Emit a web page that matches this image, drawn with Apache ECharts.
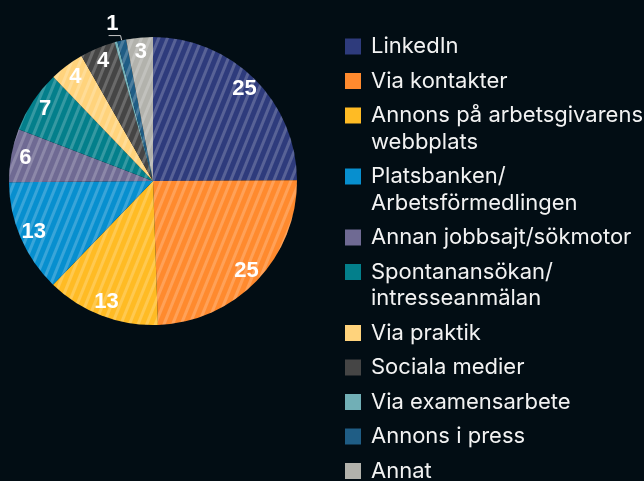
<!DOCTYPE html>
<html>
<head>
<meta charset="utf-8">
<script src="https://cdn.jsdelivr.net/npm/echarts@6/dist/echarts.min.js"></script>
<style>
  html, body { margin: 0; padding: 0; background: #020d14; }
  #chart { width: 644px; height: 481px; }
</style>
</head>
<body>
<div id="chart"></div>
<script>
// andel (%) per kanal, läst från bilden
const categories = [
  'LinkedIn', 'Via kontakter', 'Annons på arbetsgivarens webbplats',
  'Platsbanken/Arbetsförmedlingen', 'Annan jobbsajt/sökmotor',
  'Spontanansökan/intresseanmälan', 'Via praktik', 'Sociala medier',
  'Via examensarbete', 'Annons i press', 'Annat'
];
const values = [25, 24.6, 12.8, 12.7, 6, 7, 3.9, 4, 0.3, 1, 3];
const legendLabels = [
  'LinkedIn', 'Via kontakter', 'Annons på arbetsgivarens\nwebbplats',
  'Platsbanken/\nArbetsförmedlingen', 'Annan jobbsajt/sökmotor',
  'Spontanansökan/\nintresseanmälan', 'Via praktik', 'Sociala medier',
  'Via examensarbete', 'Annons i press', 'Annat'
];
const colors = [
  '#2e3b7c', '#ff8a2e', '#ffbb24', '#078fcf', '#6f6a93',
  '#037f8b', '#ffd37c', '#454545', '#71afb6', '#1f5d85', '#b2b2ac'
];

const center = [153, 181];
const radius = 144;
const lineH = 26.5;
const gap = 8;
const outsideLabel = 'Annons i press';

const stripes = {
  symbol: 'rect',
  symbolSize: 1,
  color: 'rgba(255,255,255,0.2)',
  dashArrayX: [1, 0],
  dashArrayY: [2.5, 5],
  rotation: -68 * Math.PI / 180
};

// en legend per rad så att ikonen hamnar vid första textraden
const legends = [];
let cy = 46.5;
categories.forEach((name, i) => {
  const lines = legendLabels[i].split('\n').length;
  if (i > 0) {
    cy += legendLabels[i - 1].split('\n').length * lineH + gap;
  }
  const boxH = (2 * lines - 1) * lineH;
  legends.push({
    orient: 'vertical',
    left: 345,
    top: cy - boxH / 2,
    padding: 0,
    itemWidth: 16,
    itemHeight: 16,
    selectedMode: false,
    icon: 'rect',
    itemStyle: { decal: 'none', borderWidth: 0 },
    data: [name],
    formatter: () => '\n'.repeat(lines - 1) + legendLabels[i],
    textStyle: {
      color: '#f2f2f2',
      fontFamily: 'Inter',
      fontSize: 22,
      lineHeight: lineH,
      padding: [0, 0, 0, 5]
    }
  });
});

const chart = echarts.init(document.getElementById('chart'));
chart.setOption({
  backgroundColor: '#020d14',
  animation: false,
  legend: legends,
  series: [
    {
      type: 'pie',
      center: center,
      radius: [0, radius],
      startAngle: 90,
      clockwise: true,
      avoidLabelOverlap: false,
      label: { show: false },
      labelLine: { show: false },
      itemStyle: { borderWidth: 0, decal: stripes },
      data: categories.map((name, i) => ({
        name: name,
        value: values[i],
        itemStyle: { color: colors[i] }
      }))
    },
    {
      // etiketter nära kanten
      type: 'pie',
      center: center,
      radius: [radius * 0.76, radius],
      startAngle: 90,
      clockwise: true,
      silent: true,
      avoidLabelOverlap: false,
      itemStyle: { color: 'rgba(0,0,0,0)', borderWidth: 0 },
      label: {
        show: true,
        position: 'inside',
        color: '#ffffff',
        fontFamily: 'Liberation Sans',
        fontWeight: 'bold',
        fontSize: 22,
        formatter: p => Math.round(p.value) > 0 ? String(Math.round(p.value)) : ''
      },
      labelLine: { show: false },
      // lyft den yttre etiketten ovanför linjen
      labelLayout: p => categories[p.dataIndex] === outsideLabel ? { dy: -12 } : {},
      data: categories.map((name, i) => {
        const item = { name: name, value: values[i] };
        if (name === outsideLabel) {
          item.label = {
            position: 'outside',
            distanceToLabelLine: -10
          };
          item.labelLine = {
            show: true,
            length: 5,
            length2: 12,
            lineStyle: { color: '#c8c8c8', width: 1 }
          };
        }
        return item;
      })
    }
  ]
});
</script>
</body>
</html>
